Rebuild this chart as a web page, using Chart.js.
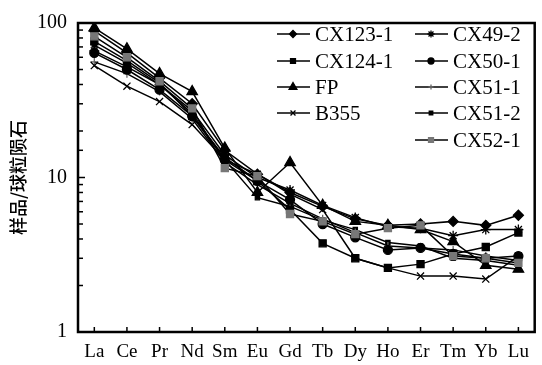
<!DOCTYPE html>
<html>
<head>
<meta charset="utf-8">
<script src="https://cdn.jsdelivr.net/npm/chart.js@4"></script>
<style>
  html, body { margin: 0; padding: 0; background: #fff; }
  #wrap { width: 542px; height: 365px; }
</style>
</head>
<body>
<div id="wrap"><canvas id="ree" width="542" height="365"></canvas></div>
<script>
// REE kategorileri
const elements = ['La', 'Ce', 'Pr', 'Nd', 'Sm', 'Eu', 'Gd', 'Tb', 'Dy', 'Ho', 'Er', 'Tm', 'Yb', 'Lu'];
const yTickLabels = [1, 10, 100];

// Numune değerleri (kondrit normalize)
const cx123_1 = [89, 64, 44, 30, 15, 10.5, 8.0, 6.5, 5.4, 4.9, 5.0, 5.2, 4.9, 5.7];
const cx124_1 = [76, 57, 41, 25, 13.5, 9.5, 6.2, 3.75, 3.0, 2.6, 2.75, 3.2, 3.55, 4.4];
const fp      = [93, 68, 47, 36, 15.5, 8.0, 12.5, 6.6, 5.2, 4.9, 4.6, 3.85, 2.7, 2.55];
const b355    = [53, 39, 31, 22, 13, 10.5, 7.8, 6.2, 3.0, 2.6, 2.3, 2.3, 2.2, 3.1];
const cx49_2  = [66, 52, 40, 27, 14, 10, 8.3, 6.6, 5.5, 4.8, 4.7, 4.2, 4.6, 4.6];
const cx50_1  = [64, 50, 37, 25, 13, 9.5, 7.2, 5.0, 4.1, 3.4, 3.5, 3.2, 3.0, 3.1];
const cx51_1  = [56, 47, 36, 24, 12.5, 9.0, 6.8, 5.4, 4.4, 3.6, 3.5, 3.4, 3.1, 2.9];
const cx51_2  = [72, 55, 40, 26, 13, 7.4, 6.5, 5.3, 4.6, 3.8, 3.6, 3.0, 2.9, 2.7];
const cx52_1  = [82, 60, 42, 28, 11.5, 10.2, 5.8, 5.2, 4.3, 4.7, 4.9, 3.1, 3.0, 2.8];

function ds(label, data, style, radius, color, legendCol, legendRow) {
  return {
    label: label,
    data: data,
    borderColor: '#000',
    borderWidth: 1.5,
    pointStyle: style,
    pointRadius: radius,
    pointBackgroundColor: color,
    pointBorderColor: color,
    pointBorderWidth: 1.3,
    tension: 0,
    legendCol: legendCol,
    legendRow: legendRow
  };
}

const datasets = [
  ds('CX52-1', cx52_1, 'rect', 5, '#777', 1, 4),
  ds('CX123-1', cx123_1, 'rectRot', 5, '#000', 0, 0),
  ds('CX124-1', cx124_1, 'rect', 5, '#000', 0, 1),
  ds('FP', fp, 'triangle', 6, '#000', 0, 2),
  ds('B355', b355, 'crossRot', 5, '#000', 0, 3),
  ds('CX49-2', cx49_2, 'star', 5, '#000', 1, 0),
  ds('CX50-1', cx50_1, 'circle', 4.5, '#000', 1, 1),
  ds('CX51-1', cx51_1, 'cross', 4, '#666', 1, 2),
  ds('CX51-2', cx51_2, 'rect', 3, '#000', 1, 3)
];

// Çerçeve, içe dönük tikler ve iki sütunlu lejant
const framePlugin = {
  id: 'frame',
  afterDraw(chart) {
    const ctx = chart.ctx;
    const a = chart.chartArea;
    const ys = chart.scales.y;
    const xs = chart.scales.x;
    ctx.save();
    ctx.strokeStyle = '#000';

    // y tikleri
    ctx.lineWidth = 1.5;
    ys.ticks.forEach(t => {
      const p = ys.getPixelForValue(t.value);
      const major = yTickLabels.includes(Math.round(t.value * 1000) / 1000);
      ctx.beginPath();
      ctx.moveTo(a.left, p);
      ctx.lineTo(a.left + (major ? 7 : 5), p);
      ctx.stroke();
    });
    // x tikleri
    elements.forEach((e, i) => {
      const p = xs.getPixelForValue(i);
      ctx.beginPath();
      ctx.moveTo(p, a.bottom);
      ctx.lineTo(p, a.bottom - 5);
      ctx.stroke();
    });

    ctx.lineWidth = 2.5;
    ctx.strokeRect(a.left, a.top, a.right - a.left, a.bottom - a.top);

    // lejant
    const colX = [277, 415];
    const rowY = [34, 61, 87, 113, 140];
    ctx.font = '21px "Liberation Serif", "Times New Roman", serif';
    ctx.textBaseline = 'middle';
    ctx.textAlign = 'left';
    chart.data.datasets.forEach(d => {
      const x0 = colX[d.legendCol];
      const y0 = rowY[d.legendRow];
      ctx.strokeStyle = '#000';
      ctx.lineWidth = 1.3;
      ctx.beginPath();
      ctx.moveTo(x0, y0);
      ctx.lineTo(x0 + 33, y0);
      ctx.stroke();
      ctx.fillStyle = d.pointBackgroundColor;
      ctx.strokeStyle = d.pointBorderColor;
      Chart.helpers.drawPoint(ctx, {
        pointStyle: d.pointStyle,
        radius: Math.max(2.5, d.pointRadius - 1.5),
        rotation: 0,
        borderWidth: 1.3
      }, x0 + 16, y0);
      ctx.fillStyle = '#000';
      ctx.fillText(d.label, x0 + 38, y0 + 1);
    });
    ctx.restore();
  }
};

const ctx = document.getElementById('ree').getContext('2d');
new Chart(ctx, {
  type: 'line',
  data: { labels: elements, datasets: datasets },
  options: {
    responsive: false,
    animation: false,
    layout: { padding: { top: 17, right: 4, left: 0, bottom: 0 } },
    plugins: { legend: { display: false }, tooltip: { enabled: false } },
    scales: {
      x: {
        offset: true,
        grid: { display: false, drawTicks: false },
        border: { display: false },
        ticks: {
          color: '#000',
          padding: 9,
          maxRotation: 0,
          autoSkip: false,
          font: { family: '"Liberation Serif", "Times New Roman", serif', size: 19 }
        },
        afterFit(s) { s.height = 33; }
      },
      y: {
        type: 'logarithmic',
        min: 1,
        max: 100,
        grid: { display: false, drawTicks: false },
        border: { display: false },
        ticks: {
          color: '#000',
          padding: 11,
          autoSkip: false,
          font: { family: '"Liberation Serif", "Times New Roman", serif', size: 20 },
          callback: (v) => yTickLabels.includes(Math.round(v * 1000) / 1000) ? String(Math.round(v)) : ''
        },
        title: {
          display: true,
          text: '样品/球粒陨石',
          color: '#000',
          padding: { top: 7, bottom: 0 },
          font: { family: '"Noto Sans CJK SC", sans-serif', size: 18, weight: '500' }
        },
        afterFit(s) { s.width = 78; }
      }
    }
  },
  plugins: [framePlugin]
});
</script>
</body>
</html>
